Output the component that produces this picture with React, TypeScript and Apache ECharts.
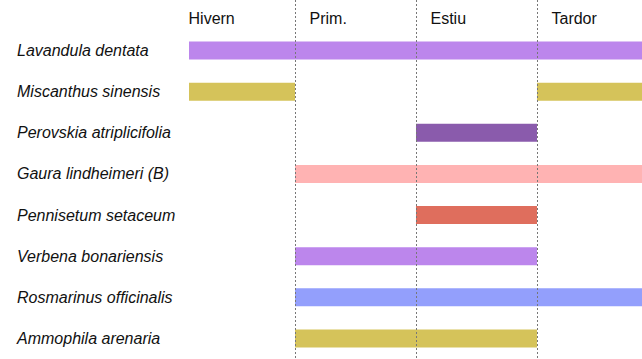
import React, { useEffect, useRef } from "react";
import * as echarts from "echarts";

const seasons = ["Hivern", "Prim.", "Estiu", "Tardor"];
const seasonStarts = [0, 1, 2, 3];
const axisStart = 0.124;
const axisEnd = 3.868;
const labelOffset = 0.12;

const species = [
  "Lavandula dentata",
  "Miscanthus sinensis",
  "Perovskia atriplicifolia",
  "Gaura lindheimeri (B)",
  "Pennisetum setaceum",
  "Verbena bonariensis",
  "Rosmarinus officinalis",
  "Ammophila arenaria",
];

const spans: number[][][] = [
  [[0, 4]],
  [[0, 1], [3, 4]],
  [[2, 3]],
  [[1, 4]],
  [[2, 3]],
  [[1, 3]],
  [[1, 4]],
  [[1, 3]],
];

const colors = [
  "#bc86ec",
  "#d5c35a",
  "#8a5bac",
  "#ffb3b3",
  "#df6e5d",
  "#bc86ec",
  "#939ffc",
  "#d5c35a",
];

const FONT = '"Liberation Sans", Arial, sans-serif';

export default function App() {
  const ref = useRef<HTMLDivElement>(null);
  useEffect(() => {
    document.body.style.margin = "0";
    const chart = echarts.init(ref.current!, null, { renderer: "svg" });
    const barData: number[][] = [];
    spans.forEach((list, i) => list.forEach(([s, e]) => barData.push([i, s, e])));
    const hiddenX = {
      show: false,
      type: "value" as const,
      min: axisStart,
      max: axisEnd,
      splitLine: { show: false },
    };
    chart.setOption({
      animation: false,
      grid: [
        { left: 189, right: 0, top: 30, height: 329 },
        { left: 189, right: 0, top: 0, height: 30 },
      ],
      xAxis: [
        { ...hiddenX, gridIndex: 0 },
        { ...hiddenX, gridIndex: 1 },
      ],
      yAxis: [
        {
          gridIndex: 0,
          type: "category",
          inverse: true,
          data: species,
          axisLine: { show: false },
          axisTick: { show: false },
          splitLine: { show: false },
          axisLabel: {
            align: "left",
            margin: 172,
            fontStyle: "italic",
            fontSize: 16,
            fontFamily: FONT,
            color: "#111",
          },
        },
        { gridIndex: 1, type: "value", min: 0, max: 1, show: false, splitLine: { show: false } },
      ],
      series: [
        {
          type: "custom",
          xAxisIndex: 0,
          yAxisIndex: 0,
          clip: true,
          encode: { x: [1, 2], y: 0 },
          data: barData,
          renderItem: (params: any, api: any) => {
            const cat = api.value(0);
            const p0 = api.coord([api.value(1), cat]);
            const p1 = api.coord([api.value(2), cat]);
            const h = 18;
            const cs = params.coordSys;
            const shape = echarts.graphic.clipRectByRect(
              { x: p0[0], y: p0[1] - h / 2, width: p1[0] - p0[0], height: h },
              { x: cs.x, y: cs.y, width: cs.width, height: cs.height }
            );
            return shape && { type: "rect", shape, style: { fill: colors[cat] } };
          },
          z: 2,
        },
        {
          type: "custom",
          xAxisIndex: 0,
          yAxisIndex: 0,
          encode: { x: 0 },
          data: seasonStarts.slice(1).map((s) => [s]),
          renderItem: (params: any, api: any) => {
            const x = Math.round(api.coord([api.value(0), 0])[0]) + 0.5;
            return {
              type: "line",
              shape: { x1: x, y1: 0, x2: x, y2: api.getHeight() },
              style: { stroke: "#777", lineWidth: 1, lineDash: [2, 2] },
            };
          },
          z: 5,
        },
        {
          type: "custom",
          xAxisIndex: 1,
          yAxisIndex: 1,
          encode: { x: 0, y: 1 },
          data: seasonStarts.map((s, i) => [s, i]),
          renderItem: (params: any, api: any) => {
            const p = api.coord([api.value(0) + labelOffset, 0.37]);
            return {
              type: "text",
              x: p[0],
              y: p[1],
              style: {
                text: seasons[api.value(1)],
                fill: "#111",
                fontSize: 16,
                fontFamily: FONT,
                align: "left",
                verticalAlign: "middle",
              },
            };
          },
          z: 5,
        },
      ],
    });
    return () => chart.dispose();
  }, []);
  return <div ref={ref} style={{ width: 642, height: 359 }} />;
}
